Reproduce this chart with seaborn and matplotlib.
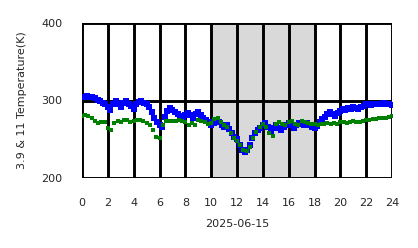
import numpy as np
import pandas as pd
import matplotlib
matplotlib.use("Agg")
import matplotlib.pyplot as plt
import seaborn as sns

# ---- data ----
hours_b = [round(i * 0.2, 2) for i in range(121)]
temp_39 = [304, 305, 306, 305, 304, 303, 301, 299, 297, 296,
           292, 288, 296, 299, 295, 291, 297, 299, 296, 293,
           289, 295, 298, 299, 297, 296, 292, 285, 278, 272,
           268, 266, 279, 286, 290, 288, 285, 283, 280, 277,
           281, 284, 281, 277, 282, 285, 281, 278, 275, 272,
           268, 271, 274, 272, 268, 266, 268, 263, 258, 253,
           250, 242, 236, 234, 236, 242, 252, 258, 262, 265,
           268, 271, 266, 260, 264, 268, 265, 262, 266, 268,
           271, 268, 265, 268, 271, 270, 268, 271, 268, 266,
           264, 267, 272, 276, 279, 282, 285, 283, 280, 284,
           287, 289, 288, 290, 289, 291, 290, 289, 292, 293,
           295, 296, 294, 295, 296, 295, 296, 297, 296, 295,
           294]
hours_g = [i * 0.25 for i in range(97)]
temp_11 = [280, 281, 280, 277, 273, 271, 272, 272, 264, 262,
           271, 274, 272, 275, 275, 272, 274, 275, 275, 273,
           271, 268, 262, 253, 251, 268, 273, 274, 274, 273,
           275, 274, 272, 269, 271, 268, 275, 274, 272, 270,
           271, 276, 277, 272, 268, 266, 258, 252, 248, 243,
           236, 235, 240, 252, 260, 266, 270, 266, 258, 254,
           270, 272, 270, 268, 272, 273, 270, 268, 273, 272,
           271, 270, 270, 269, 270, 270, 271, 270, 271, 270,
           272, 272, 271, 272, 273, 272, 272, 274, 275, 275,
           276, 276, 277, 277, 278, 279, 280]
xticks = list(range(0, 25, 2))
yticks = [200, 300, 400]
shade_span = (10, 18)
xlabel = "2025-06-15"
ylabel = "3.9 & 11 Temperature(K)"

df_b = pd.DataFrame({"hour": hours_b, "temp": temp_39})
df_g = pd.DataFrame({"hour": hours_g, "temp": temp_11})

sns.set_style("white")
plt.rcParams['font.family'] = ['DejaVu Sans']

fig = plt.figure(figsize=(4.18, 2.48), dpi=100)
ax = fig.add_axes([82 / 418, 1 - 178 / 248, 310 / 418, 155 / 248])

ax.axvspan(*shade_span, color="#d9d9d9", zorder=0, lw=0)

sns.scatterplot(data=df_g, x="hour", y="temp", ax=ax, color="green",
                marker="s", s=11, linewidth=0, zorder=4)
sns.scatterplot(data=df_b, x="hour", y="temp", ax=ax, color="blue",
                marker="s", s=13, linewidth=0, zorder=3)

ax.set_xlim(0, 24)
ax.set_ylim(200, 400)
ax.set_xticks(xticks)
ax.set_yticks(yticks)
ax.grid(True, color="black", linewidth=2.1, zorder=1)
ax.set_axisbelow(True)
for s in ax.spines.values():
    s.set_visible(False)
ax.tick_params(axis="both", length=7.2, width=2.1, color="black",
               labelsize=8, pad=7)
ax.set_xlabel(xlabel, fontsize=8, labelpad=8)
ax.set_ylabel(ylabel, fontsize=8, labelpad=10)

fig.savefig("out.png", dpi=100)
